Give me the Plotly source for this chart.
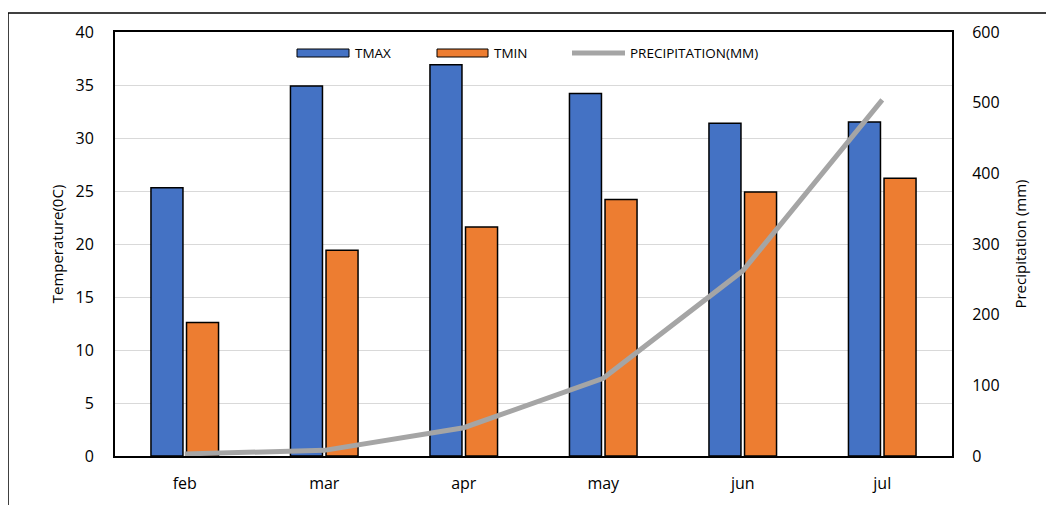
import plotly.graph_objects as go

months = ["feb", "mar", "apr", "may", "jun", "jul"]
tmax = [25.3, 34.9, 36.9, 34.2, 31.4, 31.5]
tmin = [12.6, 19.4, 21.6, 24.2, 24.9, 26.2]
precip = [3, 8, 40, 110, 262, 504]

OFF = 8  # page body margin offset
W, H = 1054 - OFF, 505 - OFF
L, R, T, B = 115 - OFF, 952 - OFF, 32 - OFF, 456 - OFF

def px(x):
    return (x - OFF - L) / (R - L)

def py(y):
    return (B - (y - OFF)) / (B - T)

FONT = "Open Sans"
blue = "#4472C4"
orange = "#ED7D31"
gray = "#A5A5A5"

fig = go.Figure()
fig.add_trace(go.Bar(x=months, y=tmax, name="TMAX", marker=dict(color=blue, line=dict(color="black", width=1.5))))
fig.add_trace(go.Bar(x=months, y=tmin, name="TMIN", marker=dict(color=orange, line=dict(color="black", width=1.5))))
fig.add_trace(go.Scatter(x=months, y=precip, name="PRECIPITATION(MM)", yaxis="y2", mode="lines",
                         line=dict(color=gray, width=5)))

shapes = [
    dict(type="line", xref="paper", yref="paper", x0=px(8), x1=px(1060), y0=py(13), y1=py(13),
         line=dict(color="black", width=1.5)),
    dict(type="line", xref="paper", yref="paper", x0=px(8), x1=px(8), y0=py(13), y1=py(510),
         line=dict(color="black", width=1.5)),
    # legend symbols
    dict(type="rect", xref="paper", yref="paper", x0=px(297), x1=px(349), y0=py(49), y1=py(57),
         fillcolor=blue, line=dict(color="black", width=1)),
    dict(type="rect", xref="paper", yref="paper", x0=px(437), x1=px(488), y0=py(49), y1=py(57),
         fillcolor=orange, line=dict(color="black", width=1)),
    dict(type="line", xref="paper", yref="paper", x0=px(572), x1=px(625), y0=py(53), y1=py(53),
         line=dict(color=gray, width=5)),
]
annotations = []
for txt, x in [("TMAX", 353), ("TMIN", 492), ("PRECIPITATION(MM)", 628)]:
    annotations.append(dict(text=txt, xref="paper", yref="paper", x=px(x), y=py(53), xanchor="left",
                            yanchor="middle", showarrow=False, font=dict(family=FONT, size=13.5, color="black")))

fig.update_layout(
    width=W, height=H,
    margin=dict(l=L, r=W - R, t=T, b=H - B, autoexpand=False),
    paper_bgcolor="white", plot_bgcolor="white",
    barmode="group", bargap=0.49, bargroupgap=0.1,
    showlegend=False,
    font=dict(family=FONT, color="black"),
    shapes=shapes, annotations=annotations,
    xaxis=dict(showline=True, mirror=True, linecolor="black", linewidth=2,
               tickfont=dict(size=16), ticks="outside", ticklen=12, tickcolor="rgba(0,0,0,0)"),
    yaxis=dict(range=[0, 40], dtick=5, showline=True, mirror=True, linecolor="black", linewidth=2,
               showgrid=True, gridcolor="#D9D9D9", gridwidth=1, zeroline=False,
               tickfont=dict(size=16), ticks="outside", ticklen=16, tickcolor="rgba(0,0,0,0)",
               title=dict(text="Temperature(0C)", font=dict(size=15), standoff=8)),
    yaxis2=dict(range=[0, 600], dtick=100, overlaying="y", side="right", showgrid=False, zeroline=False,
                tickfont=dict(size=16), ticks="outside", ticklen=16, tickcolor="rgba(0,0,0,0)",
                title=dict(text="Precipitation (mm)", font=dict(size=15), standoff=16)),
)

fig.write_html("out.html")
